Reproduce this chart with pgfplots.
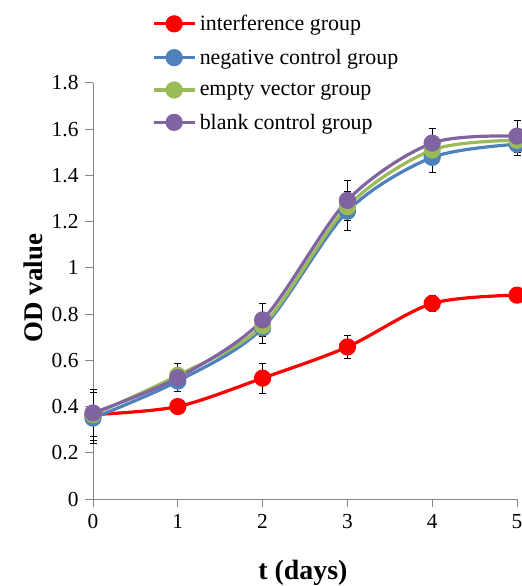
\documentclass[border=0pt]{standalone}
\usepackage{pgfplots}
\pgfplotsset{compat=1.18}
\usepackage{fontspec}
\setmainfont{Liberation Serif}
\definecolor{cred}{RGB}{255,0,0}
\definecolor{cblue}{RGB}{79,129,189}
\definecolor{cgreen}{RGB}{155,187,89}
\definecolor{cpurple}{RGB}{128,100,162}
\definecolor{axgray}{RGB}{134,134,134}
\begin{document}
\begin{tikzpicture}[x=1bp,y=1bp]
\path[use as bounding box] (0,0) rectangle (522,586);
\begin{axis}[
  at={(93bp,87bp)}, anchor=origin,
  width=424bp, height=416bp, scale only axis,
  xmin=0, xmax=5, ymin=0, ymax=1.8,
  xtick={0,1,2,3,4,5},
  ytick={0,0.2,0.4,0.6,0.8,1,1.2,1.4,1.6,1.8},
  yticklabels={0,0.2,0.4,0.6,0.8,1,1.2,1.4,1.6,1.8},
  axis lines*=left,
  axis line style={axgray, line width=1pt},
  tick style={axgray, line width=1pt},
  tick align=outside,
  major tick length=8bp,
  /pgf/number format/assume math mode=true,
  ticklabel style={font=\fontsize{21.5}{25}\selectfont, text=black},
  xticklabel style={yshift=-4bp},
  yticklabel style={xshift=-3bp},
  clip=false,
  xlabel={\textbf{t (days)}},
  ylabel={\textbf{OD value}},
  xlabel style={font=\fontsize{28}{32}\selectfont, at={(axis description cs:0.495,-0.178)}, anchor=center},
  ylabel style={font=\fontsize{27}{31}\selectfont, at={(axis description cs:-0.1415,0.507)}, anchor=center},
  legend style={draw=none, fill=none, at={(axis description cs:0.14,1.163)}, anchor=north west,
    font=\fontsize{22}{26}\selectfont, row sep=17bp, inner sep=0pt, nodes={inner ysep=0pt, inner xsep=4bp}},
  legend cell align=left,
  legend image code/.code={\draw[mark repeat=2,mark phase=2] plot coordinates {(0bp,0bp) (20bp,0bp) (40bp,0bp)};},
  every axis plot/.append style={line width=3.2bp, smooth, tension=0.5, mark=*, mark size=7bp},
  error bars/error bar style={black, line width=0.9pt, solid},
  error bars/error mark options={rotate=90, black, mark size=3.5bp, line width=0.9pt},
]
\addplot[cred, mark options={fill=cred, draw=cred}, error bars/.cd, y dir=both, y explicit] coordinates {
  (0,0.365) +- (0,0.11)
  (1,0.400) +- (0,0.02)
  (2,0.523) +- (0,0.065)
  (3,0.658) +- (0,0.05)
  (4,0.846) +- (0,0.035)
  (5,0.882) +- (0,0.03)
};
\addlegendentry{interference group}
\addplot[cblue, mark options={fill=cblue, draw=cblue}, error bars/.cd, y dir=both, y explicit] coordinates {
  (0,0.350) +- (0,0.11)
  (1,0.510) +- (0,0.045)
  (2,0.740) +- (0,0.065)
  (3,1.245) +- (0,0.085)
  (4,1.478) +- (0,0.065)
  (5,1.535) +- (0,0.05)
};
\addlegendentry{negative control group}
\addplot[cgreen, mark options={fill=cgreen, draw=cgreen}] coordinates {
  (0,0.365) (1,0.535) (2,0.750) (3,1.265) (4,1.510) (5,1.552)
};
\addlegendentry{empty vector group}
\addplot[cpurple, mark options={fill=cpurple, draw=cpurple}, error bars/.cd, y dir=both, y explicit] coordinates {
  (0,0.372) +- (0,0.10)
  (1,0.525) +- (0,0.06)
  (2,0.775) +- (0,0.07)
  (3,1.292) +- (0,0.085)
  (4,1.540) +- (0,0.065)
  (5,1.570) +- (0,0.07)
};
\addlegendentry{blank control group}
\end{axis}
\end{tikzpicture}
\end{document}
